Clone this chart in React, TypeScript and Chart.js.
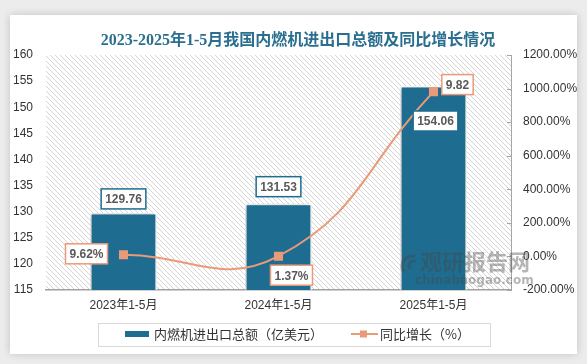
import React, { useEffect, useRef } from "react";
import { Chart, registerables } from "chart.js";

Chart.register(...registerables);

const chartTitle = "2023-2025年1-5月我国内燃机进出口总额及同比增长情况";
const categories = ["2023年1-5月", "2024年1-5月", "2025年1-5月"];
const totalValues = [129.76, 131.53, 154.06];
const totalLabels = ["129.76", "131.53", "154.06"];
const growthValues = [0.0962, 0.0137, 9.82];
const growthLabels = ["9.62%", "1.37%", "9.82"];
const seriesNames = ["内燃机进出口总额（亿美元）", "同比增长（%）"];
const leftAxis = { min: 115, max: 160, step: 5 };
const rightAxis = { min: -2, max: 12, step: 2 };

const BAR_COLOR = "#1e6d90";
const LINE_COLOR = "#ea9a78";
const FONT = "'Liberation Sans', 'Noto Sans CJK SC', sans-serif";
const CJK_FONT = "'Noto Sans CJK SC', 'Liberation Sans', sans-serif";

function makeHatch(ctx: CanvasRenderingContext2D) {
  const c = document.createElement("canvas");
  c.width = 5;
  c.height = 5;
  const p = c.getContext("2d")!;
  p.fillStyle = "#ffffff";
  p.fillRect(0, 0, 5, 5);
  p.strokeStyle = "#d4d4d4";
  p.lineWidth = 1;
  p.beginPath();
  p.moveTo(-1, -1);
  p.lineTo(6, 6);
  p.moveTo(-1, 4);
  p.lineTo(1, 6);
  p.moveTo(4, -1);
  p.lineTo(6, 1);
  p.stroke();
  return ctx.createPattern(c, "repeat");
}

function drawBox(ctx: CanvasRenderingContext2D, cx: number, cy: number, text: string, border: string) {
  ctx.save();
  ctx.font = `bold 12px ${FONT}`;
  const w = ctx.measureText(text).width + 8;
  const h = 20;
  ctx.fillStyle = "#ffffff";
  ctx.fillRect(cx - w / 2, cy - h / 2, w, h);
  ctx.strokeStyle = border;
  ctx.lineWidth = 1.5;
  ctx.strokeRect(cx - w / 2, cy - h / 2, w, h);
  ctx.fillStyle = "#595959";
  ctx.textAlign = "center";
  ctx.textBaseline = "middle";
  ctx.fillText(text, cx, cy + 1);
  ctx.restore();
}

const barLabelOffsets = [
  [0, -14],
  [0, -17],
  [2, 35],
];
const lineLabelOffsets = [
  [-37, -1],
  [13, 19],
  [24, -7],
];

const decorPlugin = {
  id: "decor",
  beforeDraw(chart: any) {
    const ctx: CanvasRenderingContext2D = chart.ctx;
    const { width, height, chartArea } = chart;
    ctx.save();
    ctx.fillStyle = "#ececec";
    ctx.fillRect(0, 0, width, height);
    ctx.shadowColor = "rgba(0,0,0,0.18)";
    ctx.shadowBlur = 8;
    ctx.fillStyle = "#ffffff";
    ctx.fillRect(10, 15, 567, 339);
    ctx.restore();

    ctx.save();
    ctx.font = `bold 16px 'Liberation Serif', 'Noto Sans CJK SC', serif`;
    ctx.fillStyle = "#2a6f8f";
    ctx.textAlign = "center";
    ctx.textBaseline = "middle";
    ctx.fillText(chartTitle, 298, 41);
    ctx.restore();

    ctx.save();
    const pat = makeHatch(ctx);
    if (pat) ctx.fillStyle = pat;
    ctx.fillRect(chartArea.left, chartArea.top, chartArea.right - chartArea.left, chartArea.bottom - chartArea.top);
    ctx.restore();
  },
  beforeDatasetDraw(chart: any, args: any) {
    if (args.index === 0) {
      const ctx = chart.ctx;
      ctx.save();
      ctx.shadowColor = "rgba(0,0,0,0.35)";
      ctx.shadowBlur = 5;
      ctx.shadowOffsetX = -1;
      ctx.shadowOffsetY = 1;
    }
  },
  afterDatasetDraw(chart: any, args: any) {
    if (args.index === 0) chart.ctx.restore();
  },
  afterDatasetsDraw(chart: any) {
    const ctx: CanvasRenderingContext2D = chart.ctx;
    const y1 = chart.scales.y1;
    ctx.save();
    ctx.strokeStyle = "#a6a6a6";
    ctx.lineWidth = 1;
    y1.ticks.forEach((t: any) => {
      const y = Math.round(y1.getPixelForValue(t.value)) + 0.5;
      ctx.beginPath();
      ctx.moveTo(y1.left - 4, y);
      ctx.lineTo(y1.left, y);
      ctx.stroke();
    });
    ctx.restore();

    const barMeta = chart.getDatasetMeta(0);
    barMeta.data.forEach((el: any, i: number) => {
      const [dx, dy] = barLabelOffsets[i];
      drawBox(ctx, el.x + dx, el.y + dy, totalLabels[i], BAR_COLOR);
    });
    const lineMeta = chart.getDatasetMeta(1);
    lineMeta.data.forEach((el: any, i: number) => {
      const [dx, dy] = lineLabelOffsets[i];
      drawBox(ctx, el.x + dx, el.y + dy, growthLabels[i], LINE_COLOR);
    });
  },
  afterDraw(chart: any) {
    const ctx: CanvasRenderingContext2D = chart.ctx;
    ctx.save();
    ctx.fillStyle = "rgba(70,70,70,0.4)";
    ctx.font = `bold 22px 'Noto Sans CJK SC', sans-serif`;
    ctx.textBaseline = "middle";
    ctx.fillText("观研报告网", 420, 262);
    ctx.font = `bold 12px 'DejaVu Sans', sans-serif`;
    ctx.fillText("chinabaogao.com", 415, 281);
    ctx.strokeStyle = "rgba(70,70,70,0.4)";
    ctx.lineWidth = 3;
    ctx.beginPath();
    ctx.arc(412, 266, 10, Math.PI * 0.8, Math.PI * 1.6);
    ctx.stroke();
    ctx.beginPath();
    ctx.arc(414, 266, 5, Math.PI * 0.8, Math.PI * 1.6);
    ctx.stroke();
    ctx.restore();

    ctx.save();
    ctx.strokeStyle = "#d9d9d9";
    ctx.lineWidth = 1;
    ctx.strokeRect(98.5, 323.5, 392, 23);
    ctx.fillStyle = BAR_COLOR;
    ctx.fillRect(125, 331, 24, 6);
    ctx.font = `13px ${CJK_FONT}`;
    ctx.fillStyle = "#333333";
    ctx.textBaseline = "middle";
    ctx.fillText(seriesNames[0], 154, 334.5);
    ctx.strokeStyle = LINE_COLOR;
    ctx.lineWidth = 2;
    ctx.beginPath();
    ctx.moveTo(351, 334);
    ctx.lineTo(378, 334);
    ctx.stroke();
    ctx.fillStyle = LINE_COLOR;
    ctx.fillRect(360, 330.5, 7, 7);
    ctx.fillStyle = "#333333";
    ctx.fillText(seriesNames[1], 380, 334.5);
    ctx.restore();
  },
};

export default function App() {
  const ref = useRef<HTMLCanvasElement>(null);
  useEffect(() => {
    if (!ref.current) return;
    const chart = new Chart(ref.current, {
      type: "bar",
      data: {
        labels: categories,
        datasets: [
          {
            type: "bar",
            label: seriesNames[0],
            data: totalValues,
            backgroundColor: BAR_COLOR,
            borderColor: "#ffffff",
            borderWidth: 1.5,
            barPercentage: 0.43,
            categoryPercentage: 1,
            yAxisID: "y",
            order: 2,
          },
          {
            type: "line",
            label: seriesNames[1],
            data: growthValues,
            borderColor: LINE_COLOR,
            backgroundColor: LINE_COLOR,
            borderWidth: 2,
            pointStyle: "rect",
            pointRadius: 5,
            tension: 0.45,
            yAxisID: "y1",
            order: 1,
          } as any,
        ],
      },
      options: {
        responsive: false,
        animation: false,
        devicePixelRatio: 1,
        layout: { padding: { left: 10, right: 10, top: 55, bottom: 0 } },
        plugins: {
          legend: { display: false },
          tooltip: { enabled: false },
          title: { display: false },
        },
        scales: {
          x: {
            grid: { display: false, drawTicks: false },
            border: { display: true, color: "#a0a0a0", width: 1.5 },
            ticks: { padding: 8, color: "#333333", font: { size: 12, family: FONT } },
            afterFit(scale: any) {
              scale.height = 74;
            },
          },
          y: {
            position: "left",
            min: leftAxis.min,
            max: leftAxis.max,
            grid: { display: false, drawTicks: false },
            border: { display: false },
            ticks: { stepSize: leftAxis.step, padding: 13, color: "#333333", font: { size: 12, family: FONT } },
            afterFit(scale: any) {
              scale.width = 36;
            },
          },
          y1: {
            position: "right",
            min: rightAxis.min,
            max: rightAxis.max,
            grid: { display: false, drawTicks: false },
            border: { display: true, color: "#a6a6a6", width: 1 },
            ticks: {
              stepSize: rightAxis.step,
              padding: 12,
              color: "#333333",
              font: { size: 12, family: FONT },
              callback: (v: any) => (Math.round(Number(v) * 100)).toFixed(2) + "%",
            },
            afterFit(scale: any) {
              scale.width = 66;
            },
          },
        },
      } as any,
      plugins: [decorPlugin],
    });
    return () => chart.destroy();
  }, []);
  return (
    <div style={{ position: "fixed", left: 0, top: 0, width: 587, height: 364 }}>
      <canvas ref={ref} width={587} height={364} style={{ display: "block", width: 587, height: 364 }} />
    </div>
  );
}
